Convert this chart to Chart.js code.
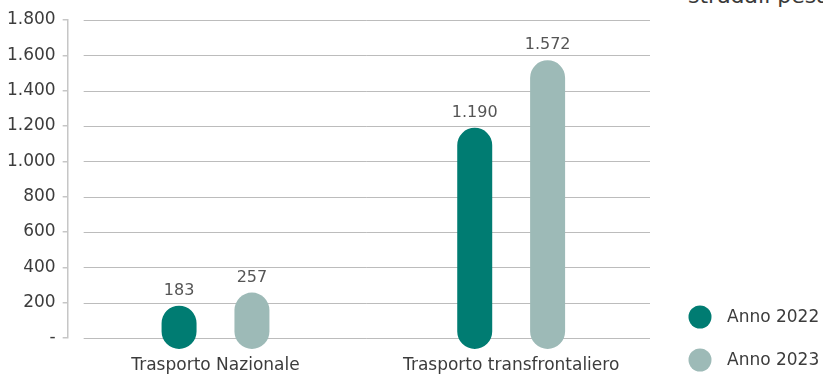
<!DOCTYPE html>
<html lang="it">
<head>
<meta charset="utf-8">
<title>Trasporto stradale</title>
<script src="https://cdn.jsdelivr.net/npm/chart.js@4/dist/chart.umd.min.js"></script>
<style>
    html, body { margin: 0; padding: 0; background: #fff; }
    #wrap { position: relative; width: 823px; height: 374px; overflow: hidden; }
    #heading {
        position: absolute; left: 688px; top: -15px;
        font: 22px/22px "DejaVu Sans", sans-serif; color: #3a3a3a;
        white-space: nowrap;
    }
    canvas { position: absolute; left: 0; top: 0; }
</style>
</head>
<body>
<div id="wrap">
    <div id="heading">stradali pesanti</div>
    <canvas id="chart" width="823" height="374"></canvas>
</div>
<script>
const categories = ['Trasporto Nazionale', 'Trasporto transfrontaliero'];
const seriesNames = ['Anno 2022', 'Anno 2023'];
const values2022 = [183, 1190];
const values2023 = [257, 1572];
const yTicks = [0, 200, 400, 600, 800, 1000, 1200, 1400, 1600, 1800];

const DARK = '#007c72';
const LIGHT = '#9dbab7';
const TEXT = '#3c3c3c';
const FONT = '"DejaVu Sans", sans-serif';

// 1800 -> "1.800"
function fmt(v) {
    return String(Math.round(v)).replace(/\B(?=(\d{3})+(?!\d))/g, '.');
}

// horizontal gridlines, inset from the axis like the original layout
const gridPlugin = {
    id: 'gridLines',
    beforeDatasetsDraw(chart) {
        const { ctx, chartArea, scales } = chart;
        ctx.save();
        ctx.strokeStyle = '#bcbcbc';
        ctx.lineWidth = 1;
        yTicks.forEach(t => {
            const y = Math.round(scales.y.getPixelForValue(t)) + 0.5;
            ctx.beginPath();
            ctx.moveTo(chartArea.left + 16, y);
            ctx.lineTo(chartArea.right - 9, y);
            ctx.stroke();
        });
        ctx.restore();
    }
};

// value labels above each bar
const valueLabels = {
    id: 'valueLabels',
    afterDatasetsDraw(chart) {
        const { ctx } = chart;
        ctx.save();
        ctx.font = '16px ' + FONT;
        ctx.fillStyle = '#555';
        ctx.textAlign = 'center';
        ctx.textBaseline = 'middle';
        chart.data.datasets.forEach((ds, i) => {
            chart.getDatasetMeta(i).data.forEach((bar, j) => {
                ctx.fillText(fmt(ds.data[j]), bar.x, bar.y - 15);
            });
        });
        ctx.restore();
    }
};

// legend with round markers at the bottom right
const sideLegend = {
    id: 'sideLegend',
    afterDraw(chart) {
        const { ctx, chartArea } = chart;
        const x = chartArea.right + 41;
        const rows = [chart.height - 57, chart.height - 14];
        ctx.save();
        ctx.font = '17px ' + FONT;
        ctx.textBaseline = 'middle';
        chart.data.datasets.forEach((ds, i) => {
            ctx.fillStyle = ds.backgroundColor;
            ctx.beginPath();
            ctx.arc(x, rows[i], 11.5, 0, Math.PI * 2);
            ctx.fill();
            ctx.fillStyle = TEXT;
            ctx.fillText(ds.label, x + 27, rows[i] + 1);
        });
        ctx.restore();
    }
};

const barStyle = {
    borderRadius: 40,
    borderSkipped: false,
    base: -62,
    clip: false,
    categoryPercentage: 0.493,
    barPercentage: 0.48
};

new Chart(document.getElementById('chart'), {
    type: 'bar',
    data: {
        labels: categories,
        datasets: [
            { label: seriesNames[0], data: values2022, backgroundColor: DARK, ...barStyle },
            { label: seriesNames[1], data: values2023, backgroundColor: LIGHT, ...barStyle }
        ]
    },
    options: {
        responsive: false,
        animation: false,
        layout: { padding: { top: 20, right: 164, left: 0, bottom: 0 } },
        plugins: {
            legend: { display: false },
            tooltip: { enabled: false }
        },
        scales: {
            x: {
                grid: { display: false, drawTicks: false },
                border: { display: false },
                ticks: {
                    color: TEXT, font: { family: FONT, size: 17 }, padding: 17,
                    maxRotation: 0, minRotation: 0, autoSkip: false
                },
                afterFit: axis => { axis.height = 36; }
            },
            y: {
                min: 0,
                max: 1800,
                afterBuildTicks: axis => { axis.ticks = yTicks.map(v => ({ value: v })); },
                grid: { drawOnChartArea: false, drawTicks: true, tickLength: 5, color: '#c6c6c6', lineWidth: 1.5 },
                border: { display: true, color: '#c6c6c6', width: 1.5 },
                ticks: {
                    color: TEXT,
                    font: { family: FONT, size: 17 },
                    padding: 7,
                    callback: v => v === 0 ? '-' : fmt(v)
                }
            }
        }
    },
    plugins: [gridPlugin, valueLabels, sideLegend]
});
</script>
</body>
</html>
